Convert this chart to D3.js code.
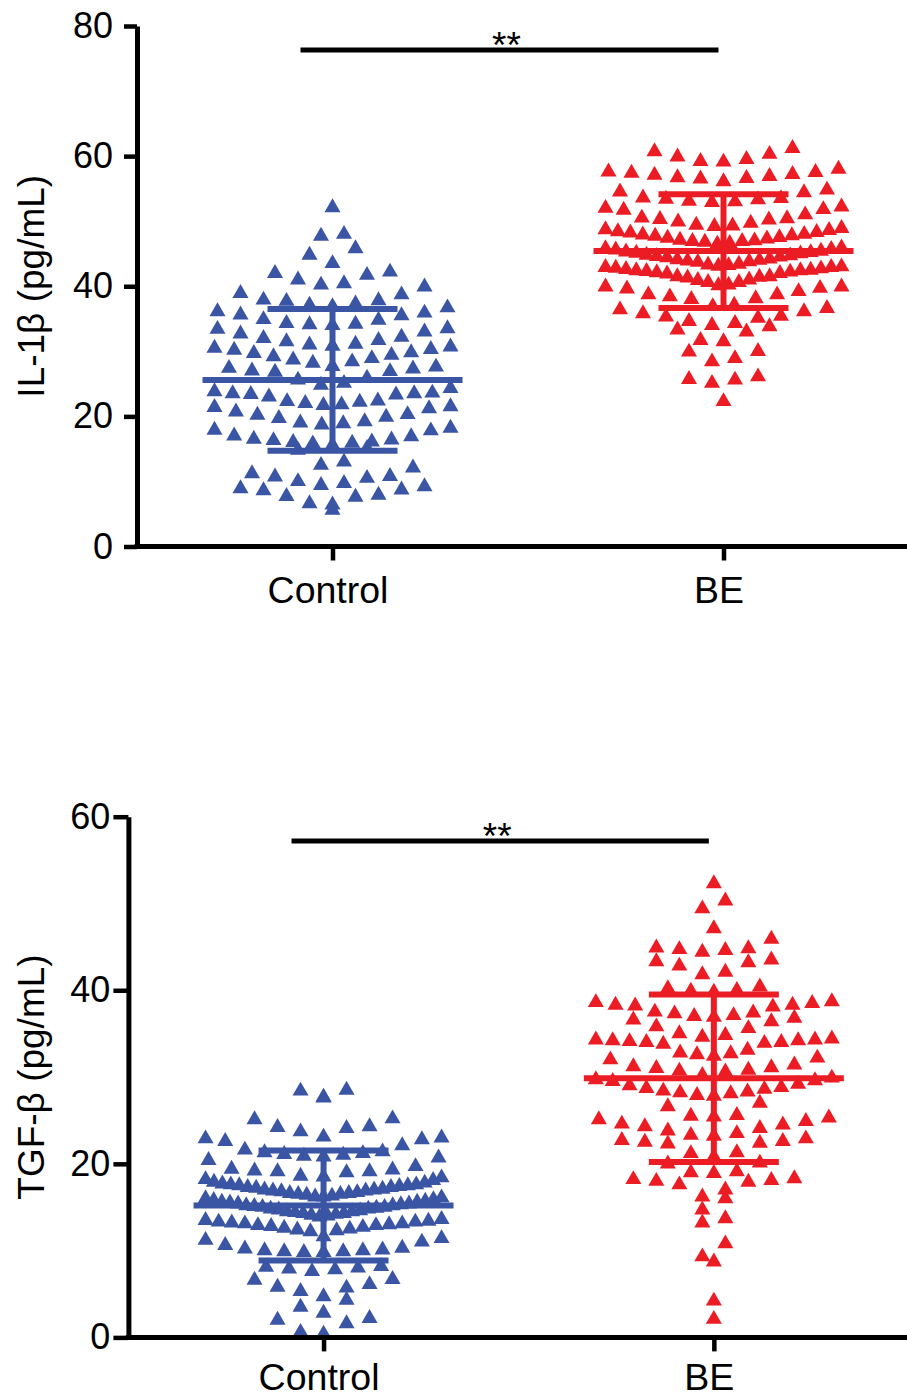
<!DOCTYPE html>
<html>
<head>
<meta charset="utf-8">
<script src="https://cdn.jsdelivr.net/npm/d3@7/dist/d3.min.js"></script>
<style>
  html, body { margin: 0; padding: 0; background: #fff; }
  svg { display: block; }
  text { font-family: "Liberation Sans", Arial, Helvetica, sans-serif; fill: #000; }
</style>
</head>
<body>
<svg id="chart" width="907" height="1399"></svg>
<script>
// ---------------- DATA ----------------
const categories = ["Control", "BE"];

const il1bControl = [
  5.6, 6.4, 6.6, 7.7, 7.6, 7.9, 8.7, 8.6, 8.9, 9.2,
  9.4, 9.7, 10.0, 10.5, 10.7, 10.8, 11.2, 12.1, 12.5, 13.0,
  14.8, 15.1, 15.6, 15.9, 15.8, 16.1, 16.0, 16.4, 16.5, 16.3, 16.9, 17.0, 17.9, 17.8, 18.2,
  18.7, 18.9, 19.0, 19.2, 19.7, 19.9, 20.2, 20.3, 20.7, 21.2, 21.5, 21.4, 21.7, 21.8, 22.0, 22.3,
  22.4, 22.2, 23.0, 23.5, 23.4, 23.6, 23.5, 23.3, 23.8, 24.3, 24.8, 25.1, 25.6, 25.9,
  26.9, 27.0, 26.8, 27.4, 27.3, 27.6, 27.7, 28.2, 28.4, 28.7, 28.9, 29.2, 29.4, 29.7, 29.8,
  30.2, 30.3, 30.5, 30.7, 30.8, 31.0, 31.1, 31.5, 31.7, 32.0, 32.2, 32.7, 33.0, 33.4, 33.5,
  34.0, 34.1, 34.3, 34.2, 34.8, 34.9, 35.6, 35.5, 35.9, 36.1, 36.7, 36.9, 37.1, 37.3,
  37.8, 37.9, 37.7, 38.7, 38.9, 39.9, 40.2, 40.4, 41.0,
  41.7, 42.0, 42.2, 43.5, 44.8,
  45.8, 47.7, 48.0,
  52.1
];
const il1bBE = [
  61.2, 60.7, 60.3, 59.5, 59.1, 59.2, 59.9,
  57.5, 57.4, 57.1, 56.9, 57.2, 57.6, 58.0, 56.6, 56.5, 56.1, 56.7,
  54.8, 54.5, 54.4, 53.5, 53.3, 53.0, 52.9, 53.1, 53.4, 53.6, 52.2, 51.7, 51.0, 51.8, 52.0,
  50.3, 50.2, 49.7, 49.2, 49.3, 49.4, 49.9, 50.4, 50.5,
  48.9, 48.7, 48.4, 48.3, 48.0, 47.8, 47.5, 47.4, 47.1, 46.9, 46.8, 46.5, 46.6, 46.9, 47.0, 47.3, 47.7, 47.9, 48.2, 48.6,
  45.9, 45.7, 45.4, 45.3, 45.0, 44.8, 44.7, 44.4, 44.2, 44.0, 43.8, 43.7, 43.9, 44.1, 44.5, 44.6, 45.1, 45.2, 45.6, 45.8,
  43.3, 43.1, 42.9, 42.8, 42.6, 42.5, 42.3, 42.2, 42.0, 41.9, 42.1, 42.4, 42.4, 42.7, 42.9, 43.0, 43.2, 43.4,
  41.5, 41.3, 40.9, 40.6, 40.1, 39.9, 39.6, 39.7, 39.9, 40.2, 40.6, 41.0, 41.4, 41.5,
  38.7, 38.4, 38.1, 38.0, 38.7, 39.2,
  36.9, 36.4, 35.8, 36.1, 36.6, 37.1,
  35.3, 34.6, 34.0, 33.8, 34.3, 35.1, 35.4,
  33.0, 33.3, 31.5, 31.7, 29.9, 30.0, 28.4, 28.9, 25.6, 26.1, 25.1, 25.7, 22.3
];
const tgfControl = [
  0.4, 0.6, 1.6, 2.0, 2.2, 2.8,
  3.5, 4.3, 4.7, 5.3, 5.7, 5.8, 6.1,
  6.6, 6.7, 7.6, 7.8, 7.9, 8.0, 8.1, 8.2,
  9.8, 9.9, 10.0, 10.1, 10.2, 9.9, 10.0, 9.8, 10.3, 10.6, 11.0, 11.2, 11.4, 11.6,
  12.2, 12.3, 12.5, 12.6, 12.8, 12.9, 12.9, 13.1, 13.2, 13.3, 13.3, 13.4, 13.5, 13.6, 13.1, 12.7, 12.4, 13.0,
  13.9, 14.0, 14.1, 14.3, 14.2, 14.4, 14.5, 14.6, 14.8, 14.7, 14.9, 15.0, 15.1, 15.3, 15.2, 15.4, 15.5, 15.6, 15.7, 15.8,
  14.3, 14.5, 14.8, 15.0, 15.2, 15.4, 15.6, 15.9,
  16.0, 16.1, 16.3, 16.2, 16.4, 16.5, 16.7, 16.6, 16.8, 16.9, 17.0, 17.1, 17.3, 17.2, 17.4, 17.5, 17.6, 17.7, 17.8,
  16.2, 16.5, 16.6, 16.9, 17.0, 17.3, 17.5, 17.6, 17.9,
  18.1, 18.2, 18.5, 18.4, 18.6, 19.0, 19.1, 19.1, 19.2, 19.3, 19.4, 19.7, 20.4, 20.8,
  20.7, 20.9, 21.0, 21.1, 21.2, 21.3, 21.4, 21.6, 22.1, 22.6, 22.9, 22.8, 23.0, 23.1,
  23.7, 24.1, 24.2, 24.3, 25.1, 25.2,
  27.6, 27.7, 28.4, 28.5
];
const tgfBE = [
  52.3, 50.3, 49.4, 47.1,
  45.9, 44.9, 44.7, 44.6, 44.4, 44.8,
  43.5, 43.2, 42.1, 42.8, 43.3, 41.8,
  40.4, 40.2, 39.9, 39.8, 40.0,
  38.5, 38.6, 38.3, 38.1, 37.3, 37.0, 37.1, 36.6, 36.4, 36.8, 36.9, 37.4, 37.5, 38.3, 38.7, 38.2,
  35.6, 34.8, 34.3, 34.2, 34.1, 34.3, 34.0, 33.9, 33.8, 34.0, 34.2, 34.4, 34.6, 35.0, 35.8,
  32.7, 32.6, 32.2, 31.4, 31.0, 30.7, 30.6, 30.8, 31.1, 31.2, 32.0, 32.4, 32.8, 33.1,
  30.2, 29.9, 29.5, 29.0, 28.7, 28.4, 28.3, 27.9, 27.8, 28.1, 28.2, 28.6, 28.8, 29.2, 29.7, 29.6,
  26.6, 25.4, 25.3, 24.9, 24.5, 24.6, 25.1, 25.5, 25.6, 27.0,
  24.1, 23.5, 23.2, 22.7, 22.5, 22.4, 22.3, 22.6, 22.9, 23.3, 23.8, 24.3,
  21.2, 20.1, 19.1, 19.0, 18.9, 20.0, 20.8, 21.3,
  18.1, 18.0, 17.6, 17.9, 18.2, 18.3,
  17.0, 16.2, 16.0,
  14.7, 13.7, 13.2,
  10.8, 9.3, 8.7, 4.2, 2.1
];

// summary statistics (mean ± SD) as drawn
const il1bMean = [25.6, 45.4];
const il1bSD = [10.9, 8.75];
const tgfMean = [15.2, 29.85];
const tgfSD = [6.35, 9.65];

const il1bTicks = [0, 20, 40, 60, 80];
const tgfTicks = [0, 20, 40, 60];
const il1bSig = 76.3;
const tgfSig = 57.2;
const sigLabel = "**";

const il1bLabel = "IL-1\u03B2 (pg/mL)";
const tgfLabel = "TGF-\u03B2 (pg/mL)";

const colors = ["#3b55a5", "#ec1c24"];

// ---------------- DRAW ----------------
const svg = d3.select("#chart");
const W = 907;

function swarm(values, y, cx, binPx, step, maxW) {
  const y0 = y(0);
  const bins = d3.groups(values, v => Math.floor((y0 - y(v)) / binPx));
  const pts = [];
  for (const [, arr] of bins) {
    const s = arr.slice().sort(d3.ascending);
    const n = s.length;
    const sp = n > 1 ? Math.min(step, maxW / (n - 1)) : 0;
    const offs = d3.range(n).map(i => (i - (n - 1) / 2) * sp);
    offs.sort((a, b) => (Math.abs(a) - Math.abs(b)) || (a - b));
    s.forEach((v, k) => pts.push({ v, x: cx + offs[k], y: y(v) }));
  }
  return pts;
}

function panel(cfg) {
  const g = svg.append("g");
  const y = d3.scaleLinear().domain(cfg.domain).range(cfg.yRange);
  const x = d3.scalePoint().domain(categories).range(cfg.xRange).padding(0.5);
  const y0 = y(0);

  // points
  const tri = d3.symbol(d3.symbolTriangle, 112);
  cfg.groups.forEach((vals, i) => {
    const pts = swarm(vals, y, x(categories[i]), 20, 23, 236);
    g.append("g").selectAll("path").data(pts).join("path")
      .attr("d", tri)
      .attr("transform", d => `translate(${d.x},${d.y})`)
      .attr("fill", colors[i]);
  });

  // mean ± SD
  categories.forEach((c, i) => {
    const cx = x(c);
    const m = cfg.mean[i], sd = cfg.sd[i];
    const eb = g.append("g").attr("stroke", colors[i]).attr("stroke-width", 6).attr("fill", "none");
    eb.append("line").attr("x1", cx).attr("x2", cx).attr("y1", y(m - sd)).attr("y2", y(m + sd));
    eb.append("line").attr("x1", cx - 130).attr("x2", cx + 130).attr("y1", y(m)).attr("y2", y(m));
    [m - sd, m + sd].forEach(v => {
      eb.append("line").attr("x1", cx - 65).attr("x2", cx + 65).attr("y1", y(v)).attr("y2", y(v));
    });
  });

  // y axis
  const ya = g.append("g").attr("transform", `translate(${cfg.xRange[0]},0)`)
    .call(d3.axisLeft(y).tickValues(cfg.ticks).tickSize(cfg.tickLen).tickSizeOuter(0).tickPadding(cfg.tickPad));
  ya.select(".domain").attr("stroke", "#000").attr("stroke-width", 5);
  ya.selectAll(".tick line").attr("stroke", "#000").attr("stroke-width", 4.5);
  ya.selectAll(".tick text").attr("font-size", 36).attr("font-family", "Liberation Sans, Arial, sans-serif").attr("fill", "#000");

  // x axis
  const xa = g.append("g").attr("transform", `translate(0,${y0})`)
    .call(d3.axisBottom(x).tickSize(14).tickSizeOuter(0).tickPadding(cfg.xPad));
  xa.select(".domain").remove();
  xa.insert("line", ":first-child").attr("x1", cfg.xRange[0] - 2.5).attr("x2", W)
    .attr("y1", 0).attr("y2", 0).attr("stroke", "#000").attr("stroke-width", 5);
  xa.selectAll(".tick line").attr("stroke", "#000").attr("stroke-width", 4.5);
  xa.selectAll(".tick text").attr("font-size", 37.5).attr("x", -5)
    .attr("font-family", "Liberation Sans, Arial, sans-serif").attr("fill", "#000");

  // y label
  const ymid = (cfg.yRange[0] + cfg.yRange[1]) / 2;
  g.append("text").attr("transform", `translate(31,${ymid}) rotate(-90)`)
    .attr("text-anchor", "middle").attr("dominant-baseline", "central")
    .attr("font-size", 37).text(cfg.label);

  // significance bar
  const sx1 = x(categories[0]) - 32, sx2 = x(categories[1]) - 5, sy = y(cfg.sig);
  g.append("line").attr("x1", sx1).attr("x2", sx2).attr("y1", sy).attr("y2", sy)
    .attr("stroke", "#000").attr("stroke-width", 5);
  g.append("text").attr("x", (sx1 + sx2) / 2 - 3).attr("y", sy + 8)
    .attr("text-anchor", "middle").attr("font-size", 37).text(sigLabel);
}

panel({
  domain: [0, 80], yRange: [546.5, 26], xRange: [137, 919],
  ticks: il1bTicks, tickLen: 13, tickPad: 11, xPad: 16,
  groups: [il1bControl, il1bBE], mean: il1bMean, sd: il1bSD,
  label: il1bLabel, sig: il1bSig
});
panel({
  domain: [0, 60], yRange: [1337.4, 816.7], xRange: [128.4, 909],
  ticks: tgfTicks, tickLen: 15, tickPad: 3, xPad: 12,
  groups: [tgfControl, tgfBE], mean: tgfMean, sd: tgfSD,
  label: tgfLabel, sig: tgfSig
});
</script>
</body>
</html>
